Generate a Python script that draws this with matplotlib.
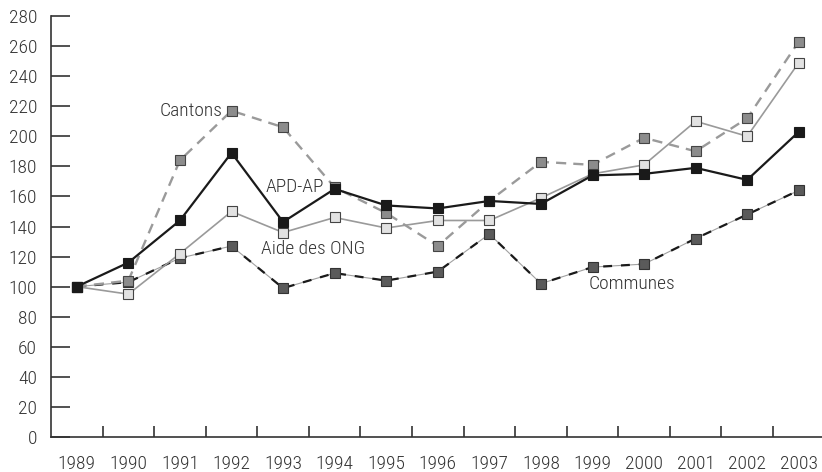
import matplotlib
matplotlib.use("Agg")
import matplotlib.pyplot as plt
from matplotlib import font_manager
from matplotlib.ticker import FixedLocator


def pick_font():
    # prefer a narrow face, like the condensed grotesque of the original
    for name in ("Liberation Sans Narrow", "Roboto Condensed", "Open Sans Condensed",
                 "Noto Sans Condensed", "DejaVu Sans Condensed"):
        try:
            font_manager.findfont(font_manager.FontProperties(family=name),
                                  fallback_to_default=False)
            return name, "normal", 14
        except ValueError:
            pass
    path = font_manager.findfont(font_manager.FontProperties(family="DejaVu Sans",
                                                              stretch="condensed"))
    if "Condensed" in path:
        return "DejaVu Sans", "condensed", 13
    return "Lato", "normal", 13.5


years = ["1989", "1990", "1991", "1992", "1993", "1994", "1995", "1996",
         "1997", "1998", "1999", "2000", "2001", "2002", "2003"]
apd_ap = [100, 116, 144, 189, 143, 165, 154, 152, 157, 155, 174, 175, 179, 171, 203]
aide_ong = [100, 95, 122, 150, 136, 146, 139, 144, 144, 159, 175, 181, 210, 200, 249]
cantons = [100, 104, 184, 217, 206, 166, 149, 127, 157, 183, 181, 199, 190, 212, 263]
communes = [100, 103, 119, 127, 99, 109, 104, 110, 135, 102, 113, 115, 132, 148, 164]
y_ticks = list(range(0, 281, 20))

family, stretch, fs = pick_font()
plt.rcParams["font.family"] = [family, "DejaVu Sans"]
plt.rcParams["font.stretch"] = stretch
plt.rcParams["font.weight"] = "light"

x = list(range(len(years)))
ms = 6.5
ink = "#333333"

fig = plt.figure(figsize=(8.22, 4.72), dpi=100)
ax = fig.add_axes([51 / 822, 1 - 437 / 472, 1 - 51 / 822, (437 - 16) / 472])

# Communes: thin grey line with black dashes on top
ax.plot(x, communes, color="#a0a0a0", lw=0.8, zorder=2)
ax.plot(x, communes, color="#1a1a1a", lw=1.6, dashes=(4, 4), zorder=2.1,
        marker="s", ms=ms, mfc="#5a5a5a", mec="#333333", mew=0.8)

ax.plot(x, cantons, color="#9a9a9a", lw=1.7, dashes=(4.3, 3), zorder=3,
        marker="s", ms=ms, mfc="#8c8c8c", mec="#444444", mew=0.8)
ax.plot(x, aide_ong, color="#9a9a9a", lw=1.2, zorder=4,
        marker="s", ms=ms, mfc="#e2e2e2", mec="#444444", mew=0.8)
ax.plot(x, apd_ap, color="#1a1a1a", lw=1.6, zorder=5,
        marker="s", ms=ms, mfc="#1a1a1a", mec="#1a1a1a", mew=0.8)

txt = dict(fontsize=fs, color=ink, va="center")
ax.text(2.82, 217, "Cantons", ha="right", **txt)
ax.text(3.66, 166, "APD-AP", ha="left", **txt)
ax.text(3.58, 125, "Aide des ONG", ha="left", **txt)
ax.text(9.92, 102, "Communes", ha="left", **txt)

ax.set_xlim(-0.5, 14.45)
ax.set_ylim(0, 280)

ax.set_xticks(x)
ax.set_xticklabels(years)
ax.xaxis.set_minor_locator(FixedLocator([i + 0.5 for i in range(14)]))
ax.tick_params(axis="x", which="major", length=0, pad=13, labelsize=fs,
               labelcolor=ink)
ax.tick_params(axis="x", which="minor", direction="in", length=8, width=1.2,
               color=ink)

ax.set_yticks(y_ticks)
ax.tick_params(axis="y", direction="in", length=14, width=1.2, pad=10,
               labelsize=fs, color=ink, labelcolor=ink)

for side in ("top", "right"):
    ax.spines[side].set_visible(False)
for side in ("left", "bottom"):
    ax.spines[side].set_color(ink)
    ax.spines[side].set_linewidth(1.2)

fig.savefig("out.png", dpi=100)
